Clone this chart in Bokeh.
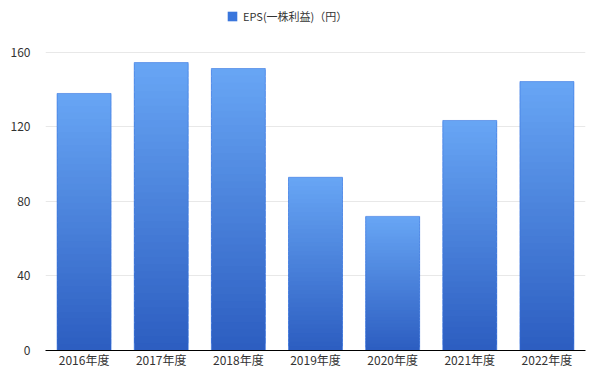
from bokeh.plotting import figure
from bokeh.embed import file_html
from bokeh.resources import INLINE
from bokeh.models import ColumnDataSource, Legend, LegendItem, FixedTicker, Range1d
import numpy as np

categories = ["2016年度", "2017年度", "2018年度", "2019年度", "2020年度", "2021年度", "2022年度"]
eps_values = [138, 154.6, 151.4, 93, 72, 123.5, 144.4]
series_name = "EPS(一株利益)（円）"
y_ticks = [0, 40, 80, 120, 160]

FONT = "Noto Sans CJK JP"
top_rgb = np.array([0x68, 0xa6, 0xf5])
bot_rgb = np.array([0x2c, 0x5d, 0xc0])

# frame spans 4..350 px; 160 sits at 52 px
p = figure(x_range=categories, y_range=Range1d(0, 185.77), width=600, height=382,
           output_backend="svg", toolbar_location=None,
           min_border_left=45, min_border_right=15, min_border_top=4, min_border_bottom=32)

N = 40
xs, bots, tops, cols = [], [], [], []
for c, v in zip(categories, eps_values):
    for k in range(N):
        t = (k + 0.5) / N
        rgb = bot_rgb + (top_rgb - bot_rgb) * t
        xs.append(c)
        bots.append(v * k / N)
        tops.append(min(v, v * (k + 1.8) / N))
        cols.append("#%02x%02x%02x" % tuple(int(round(x)) for x in rgb))
src = ColumnDataSource(dict(x=xs, bottom=bots, top=tops, color=cols))
p.vbar(x="x", bottom="bottom", top="top", width=0.70, source=src,
       fill_color="color", line_color=None)
p.vbar(x=categories, top=eps_values, width=0.70, fill_color=None,
       line_color="#2f6fe0", line_width=1, line_alpha=0.55)

# legend swatch renderer (zero-height bar, not visible in the plot)
leg_r = p.vbar(x=[categories[0]], top=[0], bottom=[0], width=0.7,
               fill_color="#3a76dc", line_color=None)
legend = Legend(items=[LegendItem(label=series_name, renderers=[leg_r])],
                orientation="horizontal", location=(181, 326),
                glyph_width=12, glyph_height=12, label_text_font=FONT,
                label_text_font_size="11px", label_text_color="#333333",
                border_line_color=None, background_fill_alpha=0,
                padding=0, margin=0, spacing=4, label_standoff=5,
                label_height=12)
p.add_layout(legend, "center")

p.yaxis.ticker = FixedTicker(ticks=y_ticks)
p.yaxis.axis_line_color = None
p.yaxis.major_tick_line_color = None
p.yaxis.minor_tick_line_color = None
p.yaxis.major_label_text_font = FONT
p.yaxis.major_label_text_font_size = "12px"
p.yaxis.major_label_text_color = "#333333"
p.yaxis.major_label_standoff = 9

p.xaxis.axis_line_color = "#000000"
p.xaxis.axis_line_width = 1
p.xaxis.major_tick_line_color = None
p.xaxis.minor_tick_line_color = None
p.xaxis.major_label_text_font = FONT
p.xaxis.major_label_text_font_size = "12px"
p.xaxis.major_label_text_color = "#333333"
p.xaxis.major_label_standoff = -6

p.xgrid.grid_line_color = None
p.ygrid.grid_line_color = "#e8e8e8"
p.ygrid.ticker = FixedTicker(ticks=y_ticks)
p.outline_line_color = None
p.x_range.range_padding = 0.0

open("out.html", "w").write(file_html(p, INLINE))
